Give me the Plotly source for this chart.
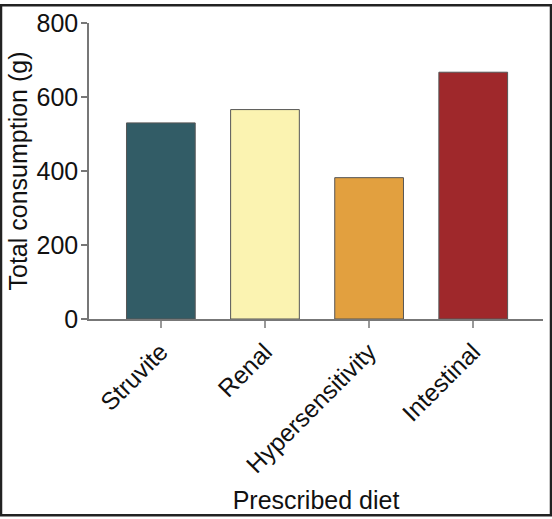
import plotly.graph_objects as go

categories = ["Struvite", "Renal", "Hypersensitivity", "Intestinal"]
consumption = [530, 566, 382, 667]
colors = ["#325c66", "#fbf3b1", "#e2a03f", "#9f282b"]

W, H = 552, 519
ml, mr, mt, mb = 89, 9, 19, 200
pw, ph = W - ml - mr, H - mt - mb

fig = go.Figure(go.Bar(
    x=categories, y=consumption,
    marker=dict(color=colors, line=dict(color="#555555", width=1)),
))

font = "Liberation Sans, Arial, sans-serif"
fig.update_layout(
    width=W, height=H,
    margin=dict(l=ml, r=mr, t=mt, b=mb),
    plot_bgcolor="white", paper_bgcolor="white",
    bargap=0.34,
    showlegend=False,
    font=dict(family=font, size=25, color="#111111"),
    xaxis=dict(
        range=[-0.69, 3.67],
        showline=True, linecolor="#777777", linewidth=1.5,
        ticks="outside", ticklen=7, tickcolor="#999999", tickwidth=1.5,
        tickangle=-45, tickfont=dict(size=24.5),
        title=dict(text="Prescribed diet", font=dict(size=25), standoff=14),
        showgrid=False, zeroline=False,
    ),
    yaxis=dict(
        range=[0, 800], dtick=200,
        showline=True, linecolor="#777777", linewidth=1.5,
        ticks="outside", ticklen=6, tickcolor="#777777", tickwidth=1.5,
        tickfont=dict(size=25), ticklabelstandoff=-2,
        title=dict(text="Total consumption (g)", font=dict(size=25), standoff=2),
        showgrid=False, zeroline=False,
    ),
    shapes=[dict(
        type="rect", xref="paper", yref="paper",
        x0=-(ml - 1) / pw, x1=1 + (mr - 1) / pw,
        y0=-(mb - 1) / ph, y1=1 + (mt - 1) / ph,
        line=dict(color="#222222", width=2.5),
    )],
)

fig.write_html("out.html", config={"displayModeBar": False},
               post_script="document.body.style.margin='0';document.body.style.overflow='hidden';")
